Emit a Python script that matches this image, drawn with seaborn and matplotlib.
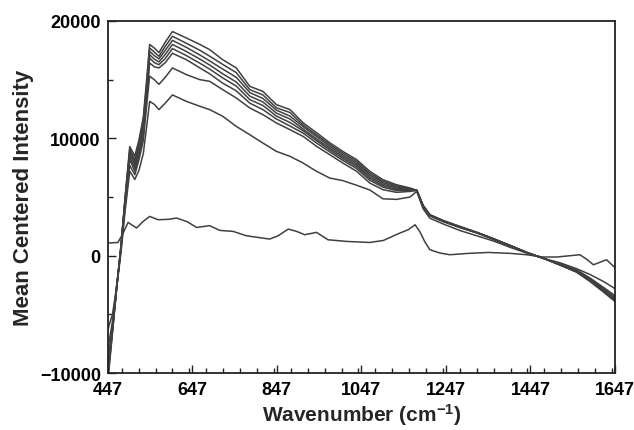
import numpy as np
import pandas as pd
import matplotlib
matplotlib.use('Agg')
import matplotlib.pyplot as plt
from matplotlib.ticker import MultipleLocator
import seaborn as sns

# wavenumber grid for the eight upper spectra
wn = [447, 458, 468, 478, 488, 499, 511, 521, 531, 539, 546, 557, 568, 583, 600, 633,
      665, 688, 719, 751, 783, 814, 846, 878, 909, 941, 972, 1003, 1036, 1067, 1098,
      1130, 1162, 1178, 1193, 1209, 1241, 1280, 1320, 1360, 1400, 1440, 1480, 1517,
      1556, 1588, 1620, 1647]

c1 = [-10800, -6600, -2800, 800, 5000, 9300, 8500, 9900, 11800, 15000, 18000, 17700,
      17300, 18200, 19100, 18550, 18000, 17560, 16700, 16000, 14430, 14000, 12870, 12450,
      11330, 10480, 9630, 8890, 8180, 7190, 6480, 6050, 5770, 5570, 4300, 3500, 3000,
      2500, 2000, 1450, 850, 250, -250, -800, -1400, -2200, -3100, -3900]
c2 = [-10500, -6500, -2800, 750, 4900, 9100, 8200, 9650, 11500, 14650, 17700, 17350,
      16990, 17850, 18700, 18100, 17500, 17000, 16300, 15600, 14150, 13700, 12600, 12200,
      11150, 10300, 9480, 8740, 8030, 7040, 6350, 5950, 5720, 5570, 4280, 3480, 2980,
      2480, 1990, 1440, 850, 250, -250, -790, -1380, -2150, -3050, -3850]
c3 = [-10200, -6400, -2750, 700, 4800, 8900, 7950, 9400, 11200, 14300, 17410, 17050,
      16770, 17500, 18350, 17750, 17100, 16600, 15900, 15200, 13900, 13400, 12400, 11900,
      11000, 10150, 9330, 8590, 7880, 6890, 6230, 5850, 5680, 5570, 4260, 3460, 2960,
      2460, 1980, 1430, 850, 250, -250, -780, -1350, -2100, -3000, -3800]
c4 = [-9900, -6300, -2700, 650, 4700, 8700, 7700, 9100, 10900, 14000, 17130, 16750,
      16510, 17150, 18000, 17400, 16750, 16250, 15500, 14800, 13600, 13100, 12150, 11650,
      10800, 9950, 9170, 8440, 7730, 6740, 6100, 5750, 5630, 5570, 4250, 3450, 2950,
      2450, 1970, 1420, 850, 250, -250, -760, -1320, -2050, -2950, -3700]
c5 = [-9500, -6200, -2650, 600, 4600, 8450, 7450, 8850, 10600, 13700, 16840, 16450,
      16280, 16800, 17650, 17050, 16400, 15900, 15150, 14450, 13300, 12800, 11900, 11350,
      10650, 9800, 9020, 8290, 7580, 6590, 5970, 5650, 5590, 5570, 4230, 3430, 2930,
      2430, 1960, 1410, 850, 250, -250, -740, -1280, -2000, -2850, -3650]
c6 = [-9100, -6000, -2600, 550, 4500, 8200, 7200, 8550, 10300, 13350, 16420, 16100,
      16000, 16450, 17250, 16700, 16000, 15500, 14700, 14050, 13000, 12450, 11650, 11050,
      10450, 9600, 8850, 8130, 7420, 6430, 5840, 5550, 5540, 5570, 4210, 3420, 2920,
      2420, 1955, 1400, 850, 250, -250, -720, -1240, -1950, -2800, -3550]
c7 = [-8000, -5600, -2500, 400, 4200, 7700, 6900, 8200, 9800, 12800, 15300, 15000,
      14600, 15200, 16000, 15430, 15000, 14860, 14150, 13440, 12590, 12020, 11310, 10740,
      10170, 9320, 8610, 7900, 7190, 6190, 5630, 5400, 5480, 5570, 4200, 3400, 2900,
      2400, 1950, 1400, 850, 250, -250, -700, -1200, -1900, -2700, -3400]
c8 = [-6300, -5000, -2700, 200, 3800, 7200, 6500, 7300, 8700, 11000, 13150, 12900,
      12450, 13000, 13700, 13150, 12730, 12450, 11880, 11020, 10310, 9600, 8890, 8470,
      7900, 7190, 6620, 6400, 6000, 5600, 4850, 4800, 5000, 5480, 4000, 3200, 2700,
      2150, 1700, 1250, 700, 200, -250, -600, -1100, -1600, -2200, -2800]

# flat (low) spectrum on its own grid
wn_low = [447, 471, 483, 495, 505, 515, 530, 546, 566, 590, 610, 635, 657, 688, 712,
          744, 775, 830, 850, 874, 894, 913, 941, 968, 1012, 1067, 1099, 1138, 1158,
          1174, 1185, 1197, 1209, 1233, 1256, 1300, 1347, 1400, 1438, 1477, 1509, 1540,
          1564, 1580, 1596, 1627, 1647]
low = [1080, 1130, 1900, 2840, 2600, 2360, 2900, 3350, 3070, 3100, 3210, 2900, 2410,
       2560, 2160, 2070, 1700, 1420, 1700, 2270, 2070, 1790, 1990, 1360, 1220, 1130, 1300,
       1930, 2220, 2640, 2070, 1200, 510, 230, 85, 200, 280, 200, 85, -110, -110, 0, 85,
       -300, -770, -340, -1020]

frames = []
for i, c in enumerate([c1, c2, c3, c4, c5, c6, c7, c8]):
    frames.append(pd.DataFrame({'wn': wn, 'val': c, 'curve': 'c%d' % (i + 1)}))
frames.append(pd.DataFrame({'wn': wn_low, 'val': low, 'curve': 'low'}))
df = pd.concat(frames, ignore_index=True)

sns.set_style('ticks')
plt.rcParams['font.family'] = ['Liberation Sans', 'DejaVu Sans']
plt.rcParams['font.weight'] = 'bold'
plt.rcParams['mathtext.fontset'] = 'custom'
plt.rcParams['mathtext.rm'] = 'Liberation Sans:bold'
plt.rcParams['mathtext.bf'] = 'Liberation Sans:bold'
plt.rcParams['mathtext.default'] = 'bf'

fig = plt.figure(figsize=(6.34, 4.31), dpi=100)
ax = fig.add_axes([0.170, 0.132, 0.800, 0.817])

sns.lineplot(data=df, x='wn', y='val', units='curve', estimator=None,
             color='#404040', linewidth=1.1, ax=ax, legend=False)

ax.set_xlim(447, 1647)
ax.set_ylim(-10000, 20000)
ax.set_xticks([447, 647, 847, 1047, 1247, 1447, 1647])
ax.xaxis.set_minor_locator(MultipleLocator(40))
ax.set_yticks([-10000, 0, 10000, 20000])
ax.yaxis.set_minor_locator(MultipleLocator(5000))
ax.tick_params(which='both', direction='in', width=1, colors='#222222',
               labelcolor='black', labelsize=13)
ax.tick_params(which='major', length=6)
ax.tick_params(which='minor', length=3.5)
ax.tick_params(axis='y', pad=5)
ax.tick_params(axis='x', pad=6)
for lab in ax.get_xticklabels() + ax.get_yticklabels():
    lab.set_fontweight('bold')

for s in ax.spines.values():
    s.set_linewidth(1.3)
    s.set_color('#222222')

ax.set_xlabel('Wavenumber (cm$^{-1}$)', fontsize=15, fontweight='bold', labelpad=2)
ax.set_ylabel('Mean Centered Intensity', fontsize=16, fontweight='bold', labelpad=4)

fig.savefig('out.png', dpi=100, facecolor='white')
